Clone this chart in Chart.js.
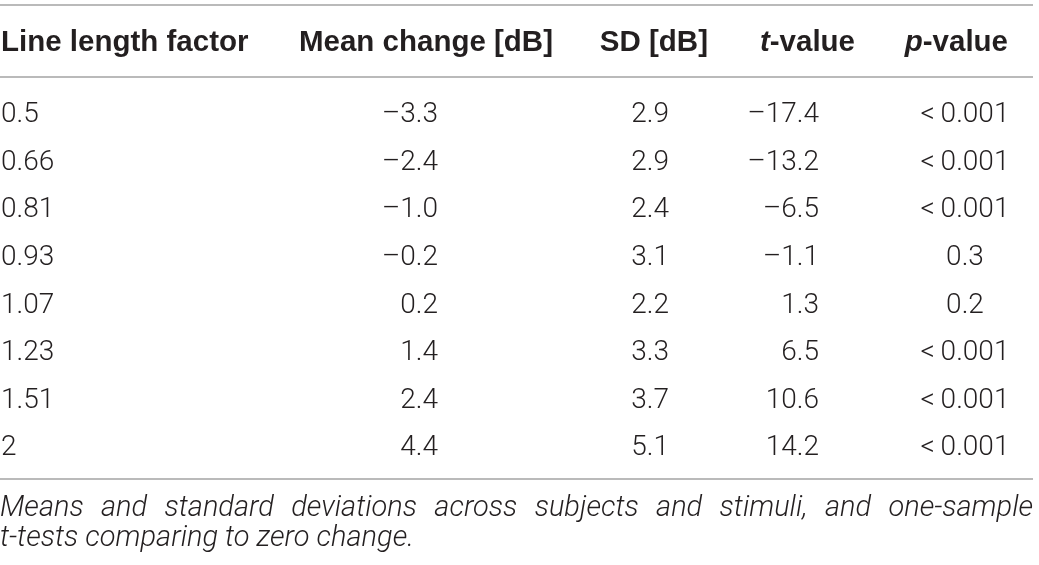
<!DOCTYPE html>
<html><head><meta charset="utf-8">
<script src="https://cdn.jsdelivr.net/npm/chart.js@4.4.1/dist/chart.umd.min.js"></script>
<style>html,body{margin:0;padding:0;background:#fff}#c{display:block}</style>
</head><body>
<canvas id="c" width="1039" height="565"></canvas>
<script>
// ---- data ----
const headers = ['Line length factor', 'Mean change [dB]', 'SD [dB]', 't-value', 'p-value'];
const factors = ['0.5', '0.66', '0.81', '0.93', '1.07', '1.23', '1.51', '2'];
const meanChange = [-3.3, -2.4, -1.0, -0.2, 0.2, 1.4, 2.4, 4.4];
const sdValues = [2.9, 2.9, 2.4, 3.1, 2.2, 3.3, 3.7, 5.1];
const tValues = [-17.4, -13.2, -6.5, -1.1, 1.3, 6.5, 10.6, 14.2];
const pValues = ['<0.001', '<0.001', '<0.001', '0.3', '0.2', '<0.001', '<0.001', '<0.001'];
const captionLines = ['Means and standard deviations across subjects and stimuli, and one-sample', 't-tests comparing to zero change.'];

// ---- layout ----
const colX = [1, 438, 669, 819, 965];
const colAlign = ['left', 'right', 'right', 'right', 'center'];
const headX = [1, 553, 708, 855, 1008];
const headAlign = ['left', 'right', 'right', 'right', 'right'];
const BODY = '300 28px Roboto, "Liberation Sans", sans-serif';
const HEAD = 'bold 29.5px "Liberation Sans", Arial, sans-serif';
const HEAD_IT = 'italic bold 29.5px "Liberation Sans", Arial, sans-serif';
const CAP = 'italic 300 29px Roboto, "Liberation Sans", sans-serif';
const TEXT = '#231f20';
const RULE = '#a3a3a3';

const fmt = v => (v < 0 ? '\u2013' + Math.abs(v).toFixed(1) : v.toFixed(1));
const fmtP = s => s.replace('<', '<\u2009');

const columns = [
  factors.slice(),
  meanChange.map(fmt),
  sdValues.map(v => v.toFixed(1)),
  tValues.map(fmt),
  pValues.map(fmtP)
];

const datasets = columns.map((texts, i) => ({
  label: headers[i],
  texts: texts,
  align: colAlign[i],
  data: factors.map(f => ({ x: colX[i], y: f })),
  pointRadius: 0,
  pointHoverRadius: 0,
  showLine: false
}));

function hline(ctx, y, x0, x1) {
  ctx.beginPath();
  ctx.moveTo(x0, y);
  ctx.lineTo(x1, y);
  ctx.stroke();
}

const tablePlugin = {
  id: 'tablePlugin',
  afterDatasetsDraw(chart) {
    const ctx = chart.ctx;
    const xs = chart.scales.x;
    const area = chart.chartArea;
    const x0 = xs.getPixelForValue(0), x1 = xs.getPixelForValue(1033);
    ctx.save();
    // rules
    ctx.strokeStyle = RULE;
    ctx.lineWidth = 1.6;
    hline(ctx, area.top - 83.7, x0, x1);
    hline(ctx, area.top - 11.7, x0, x1);
    hline(ctx, area.bottom + 9.7, x0, x1);
    // headers
    ctx.fillStyle = TEXT;
    ctx.textBaseline = 'alphabetic';
    const hy = area.top - 37.7;
    headers.forEach((h, i) => {
      let parts;
      if (h.indexOf('-value') === 1) parts = [[h[0], HEAD_IT], [h.slice(1), HEAD]];
      else parts = [[h, HEAD]];
      let w = 0;
      parts.forEach(p => { ctx.font = p[1]; w += ctx.measureText(p[0]).width; });
      let x = xs.getPixelForValue(headX[i]);
      if (headAlign[i] === 'right') x -= w;
      ctx.textAlign = 'left';
      parts.forEach(p => { ctx.font = p[1]; ctx.fillText(p[0], x, hy); x += ctx.measureText(p[0]).width; });
    });
    // cells
    ctx.font = BODY;
    chart.data.datasets.forEach((ds, i) => {
      const meta = chart.getDatasetMeta(i);
      ctx.textAlign = ds.align;
      meta.data.forEach((pt, j) => {
        ctx.fillText(ds.texts[j], pt.x, pt.y + 9.8);
      });
    });
    // caption (first line justified)
    ctx.font = CAP;
    ctx.textAlign = 'left';
    const capY = [area.bottom + 46.7, area.bottom + 76.7];
    captionLines.forEach((line, k) => {
      const words = line.split(' ');
      if (k < captionLines.length - 1 && words.length > 1) {
        const sum = words.reduce((s, w) => s + ctx.measureText(w).width, 0);
        const gap = (x1 - x0 - sum) / (words.length - 1);
        let x = x0;
        words.forEach(w => { ctx.fillText(w, x, capY[k]); x += ctx.measureText(w).width + gap; });
      } else {
        ctx.fillText(line, x0, capY[k]);
      }
    });
    ctx.restore();
  }
};

new Chart(document.getElementById('c'), {
  type: 'scatter',
  data: { datasets: datasets },
  options: {
    responsive: false,
    animation: false,
    events: [],
    layout: { padding: { left: 0, right: 0, top: 88.7, bottom: 95.7 } },
    scales: {
      x: { type: 'linear', min: 0, max: 1039, display: false },
      y: { type: 'category', labels: factors, offset: true, display: false }
    },
    plugins: { legend: { display: false }, tooltip: { enabled: false } }
  },
  plugins: [tablePlugin]
});
</script>
</body></html>
